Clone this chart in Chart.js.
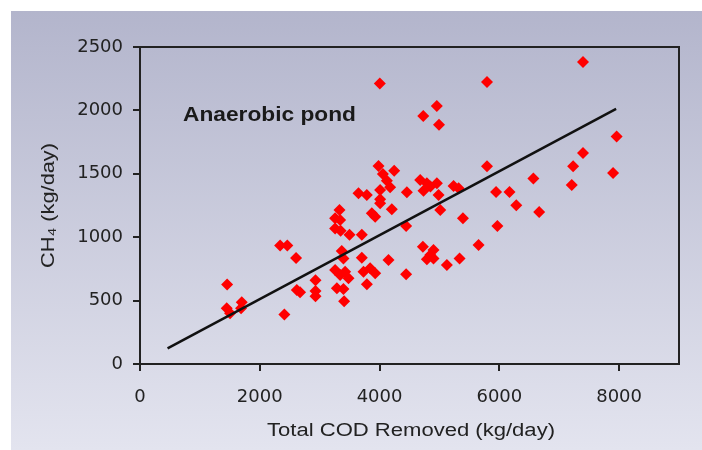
<!DOCTYPE html>
<html>
<head>
<meta charset="utf-8">
<script src="https://cdn.jsdelivr.net/npm/chart.js@4.4.0/dist/chart.umd.min.js"></script>
<style>
body { margin: 0; background: #fff; }
canvas { display: block; }
</style>
</head>
<body>
<canvas id="pondChart" width="702" height="450"></canvas>
<script>
// Total COD removed (kg/day) and CH4 produced (kg/day)
const codRemoved = [
    1455, 1448, 1504, 1699, 1688, 2411, 2340, 2460, 2606, 2618, 2673, 2930, 2930, 2930,
    3331, 3258, 3342, 3258, 3350, 3498, 3704, 3369, 3397, 3258, 3425, 3342, 3481, 3287,
    3397, 3408, 3704, 3732, 3843, 3927, 3788,
    3982, 4244, 4055, 4122, 4177, 4010, 3648, 3787, 4010, 4010, 4205, 3871, 3927, 4004,
    4149, 4456, 4444, 4444,
    4678, 4790, 4957, 4734, 4850, 4985, 5236, 5320, 5013, 5392, 4723, 4901, 4846, 4790,
    4901, 5124, 5336, 5653, 4730, 4956, 4993,
    5794, 5794, 5945, 5967, 6170, 6283, 6568, 6665, 7209, 7232, 7397, 7397, 7899, 7959
];
const ch4Produced = [
    627, 439, 400, 487, 440, 390, 935, 935, 835, 584, 565, 660, 575, 535,
    1214, 1149, 1136, 1068, 1050, 1020, 1020, 891, 833, 741, 728, 702, 676, 597,
    591, 495, 838, 728, 755, 715, 628,
    1561, 1524, 1498, 1446, 1393, 1372, 1346, 1333, 1299, 1267, 1220, 1188, 1162, 2213,
    820, 1354, 1088, 707,
    1451, 1425, 1425, 1367, 1400, 1333, 1404, 1386, 1215, 1149, 925, 899, 860, 826,
    833, 781, 833, 938, 1956, 2035, 1886,
    2223, 1560, 1356, 1089, 1356, 1251, 1463, 1199, 1411, 1560, 2382, 1664, 1507, 1795
];

// regression line end points
const fitCod = [460, 7950];
const fitCh4 = [124, 2012];

const xTicks = [0, 2000, 4000, 6000, 8000];
const yTicks = [0, 500, 1000, 1500, 2000, 2500];

const panelBackground = {
    id: 'panelBackground',
    beforeDraw(chart) {
        const ctx = chart.ctx;
        ctx.save();
        ctx.fillStyle = '#ffffff';
        ctx.fillRect(0, 0, chart.width, chart.height);
        const grad = ctx.createLinearGradient(0, 11, 0, chart.height);
        grad.addColorStop(0, '#b3b5cc');
        grad.addColorStop(1, '#e3e4ef');
        ctx.fillStyle = grad;
        ctx.fillRect(11, 11, chart.width - 11, chart.height - 11);
        ctx.restore();
    }
};

function fittedText(ctx, text, cx, cy, font, width, angle) {
    ctx.save();
    ctx.font = font;
    const sx = width / ctx.measureText(text).width;
    ctx.translate(cx, cy);
    ctx.rotate(angle || 0);
    ctx.scale(sx, 1);
    ctx.textAlign = 'center';
    ctx.textBaseline = 'middle';
    ctx.fillText(text, 0, 0);
    ctx.restore();
}

const frameAndLabels = {
    id: 'frameAndLabels',
    afterDraw(chart) {
        const ctx = chart.ctx;
        const a = chart.chartArea;
        ctx.save();
        ctx.strokeStyle = '#222';
        ctx.lineWidth = 2;
        ctx.strokeRect(a.left, a.top, a.right - a.left, a.bottom - a.top);
        ctx.fillStyle = '#222';
        fittedText(ctx, 'Total COD Removed (kg/day)', 411, 431, '18px "Liberation Sans"', 288);
        fittedText(ctx, 'CH\u2084 (kg/day)', 49, (a.top + a.bottom) / 2, '18px "Liberation Sans"', 125, -Math.PI / 2);
        ctx.fillStyle = '#1a1a1a';
        fittedText(ctx, 'Anaerobic pond', 269.5, 115, 'bold 21px "Liberation Sans"', 173);
        ctx.restore();
    }
};

const ctx = document.getElementById('pondChart').getContext('2d');
new Chart(ctx, {
    type: 'scatter',
    data: {
        datasets: [{
            type: 'line',
            data: fitCod.map((x, i) => ({ x: x, y: fitCh4[i] })),
            borderColor: '#111',
            borderWidth: 2.5,
            pointRadius: 0,
            fill: false,
            order: 0
        }, {
            data: codRemoved.map((x, i) => ({ x: x, y: ch4Produced[i] })),
            pointStyle: 'rectRot',
            pointRadius: 6,
            backgroundColor: '#ff0000',
            borderWidth: 0,
            order: 1
        }]
    },
    options: {
        responsive: false,
        devicePixelRatio: 1,
        animation: false,
        layout: { padding: { left: 0, top: 47, right: 23, bottom: 0 } },
        plugins: {
            legend: { display: false },
            tooltip: { enabled: false }
        },
        scales: {
            x: {
                type: 'linear',
                min: 0,
                max: 9000,
                afterBuildTicks: s => { s.ticks = xTicks.map(v => ({ value: v })); },
                afterFit: s => { s.height = 86; },
                grid: { drawOnChartArea: false, drawTicks: true, tickLength: 7, color: '#222', lineWidth: 2 },
                border: { display: true, color: '#222', width: 2 },
                ticks: {
                    padding: 16,
                    color: '#222',
                    font: { family: 'DejaVu Sans', size: 18 },
                    callback: v => String(v)
                }
            },
            y: {
                type: 'linear',
                min: 0,
                max: 2500,
                afterBuildTicks: s => { s.ticks = yTicks.map(v => ({ value: v })); },
                afterFit: s => { s.width = 140; },
                grid: { drawOnChartArea: false, drawTicks: true, tickLength: 7, color: '#222', lineWidth: 2 },
                border: { display: true, color: '#222', width: 2 },
                ticks: {
                    padding: 10,
                    color: '#222',
                    font: { family: 'DejaVu Sans', size: 18 },
                    callback: v => String(v)
                }
            }
        }
    },
    plugins: [panelBackground, frameAndLabels]
});
</script>
</body>
</html>
